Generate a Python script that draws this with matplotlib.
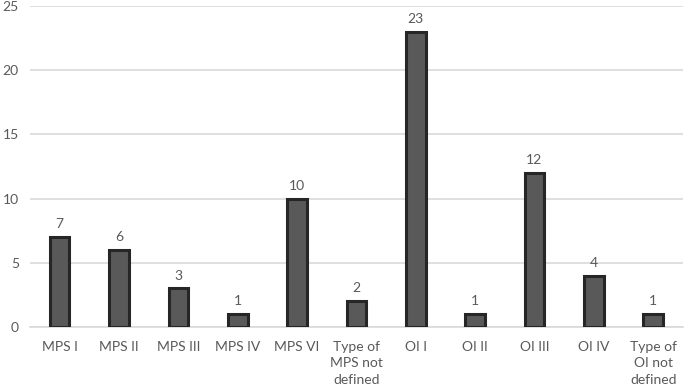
import matplotlib
matplotlib.use("Agg")
import matplotlib.pyplot as plt

categories = ["MPS I", "MPS II", "MPS III", "MPS IV", "MPS VI",
              "Type of\nMPS not\ndefined", "OI I", "OI II", "OI III", "OI IV",
              "Type of\nOI not\ndefined"]
counts = [7, 6, 3, 1, 10, 2, 23, 1, 12, 4, 1]
yticks = [0, 5, 10, 15, 20, 25]

plt.rcParams['font.family'] = ['Lato', 'DejaVu Sans']
text_col = "#595959"

fig = plt.figure(figsize=(6.85, 3.89), dpi=100)
ax = fig.add_axes([0.0438, 0.1594, 0.953, 0.8252])

x = range(len(categories))
ax.bar(x, counts, width=0.33, color="#595959", edgecolor="#262626",
       linewidth=2.2, zorder=3)
for i, v in zip(x, counts):
    ax.annotate(str(v), (i, v), xytext=(0, 5), textcoords="offset points",
                ha="center", va="bottom", fontsize=10, color=text_col)

ax.set_xlim(-0.5, len(categories) - 0.5)
ax.set_ylim(0, 25)
ax.set_yticks(yticks)
ax.yaxis.grid(True, color="#d9d9d9", linewidth=1.2, zorder=0)
ax.set_xticks(list(x))
ax.set_xticklabels(categories, fontsize=10, color=text_col, va="top",
                   linespacing=1.45)
ax.tick_params(axis="y", labelsize=10, labelcolor=text_col, length=0, pad=8)
ax.tick_params(axis="x", length=0, pad=10)
for s in ["top", "right", "left"]:
    ax.spines[s].set_visible(False)
ax.spines["bottom"].set_color("#d9d9d9")
ax.spines["bottom"].set_linewidth(1.2)

fig.savefig("out.png", dpi=100)
